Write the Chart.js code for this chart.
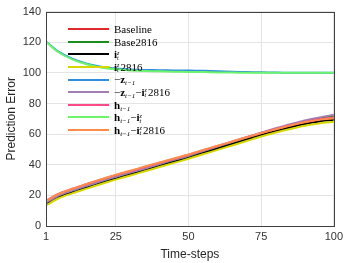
<!DOCTYPE html>
<html>
<head>
<meta charset="utf-8">
<script src="https://cdn.jsdelivr.net/npm/chart.js@4.4.0/dist/chart.umd.min.js"></script>
<style>
  html, body { margin: 0; padding: 0; background: #fff; }
  #wrap { position: relative; width: 347px; height: 263px; }
  #legend { position: absolute; left: 68px; top: 23px; font-family: "Liberation Serif", serif; font-size: 11px; color: #000; }
  .row { height: 12.6px; line-height: 12.6px; white-space: nowrap; display: flex; align-items: center; }
  .swatch { width: 41px; height: 2px; margin-right: 5px; }
  .row b { font-weight: bold; }
  .row sub { font-size: 7px; font-style: italic; vertical-align: -2px; line-height: 0; }
  .st { display: inline-block; vertical-align: middle; font-size: 6px; line-height: 5px; font-style: italic; margin-right: 1px; }
  .st span { display: block; }
</style>
</head>
<body>
<div id="wrap">
  <canvas id="myChart" width="347" height="263"></canvas>
  <div id="legend"></div>
</div>
<script>
const steps = [1, 5, 10, 15, 20, 25, 30, 35, 40, 45, 50, 55, 60, 65, 70, 75, 80, 85, 90, 95, 100];
const xTicks = [1, 25, 50, 75, 100];

const iz = '<b>i</b><span class="st"><span>z</span><span>t</span></span>';
const labels = [
    'Baseline',
    'Base2816',
    iz,
    iz + '2816',
    '&minus;<b>z</b><sub>t&minus;1</sub>',
    '&minus;<b>z</b><sub>t&minus;1</sub>&minus;' + iz + '2816',
    '<b>h</b><sub>t&minus;1</sub>',
    '<b>h</b><sub>t&minus;1</sub>&minus;' + iz,
    '<b>h</b><sub>t&minus;1</sub>&minus;' + iz + '2816'
];
const colors = ['#e02a2a', '#1c8c1c', '#000000', '#d6d600', '#2f8fdc', '#a27fb2', '#ff4a8a', '#6cf46c', '#ff8c4a'];

const baseline   = [15.0, 19.3, 22.8, 25.9, 28.9, 31.8, 34.4, 37.0, 39.8, 42.4, 45.0, 48.0, 51.0, 54.0, 56.9, 59.9, 62.5, 65.0, 67.2, 69.0, 70.2];
const base2816   = [14.8, 19.2, 22.7, 25.8, 28.8, 31.7, 34.3, 37.0, 39.9, 42.6, 45.3, 48.3, 51.4, 54.4, 57.4, 60.4, 63.1, 65.8, 68.2, 70.2, 71.8];
const iz1        = [14.2, 18.6, 22.0, 25.0, 28.0, 30.9, 33.6, 36.3, 39.1, 41.8, 44.5, 47.5, 50.4, 53.4, 56.3, 59.2, 61.8, 64.3, 66.6, 68.3, 69.3];
const iz2816     = [13.3, 17.8, 21.3, 24.4, 27.4, 30.3, 33.0, 35.7, 38.5, 41.2, 43.9, 46.8, 49.7, 52.6, 55.5, 58.4, 61.0, 63.4, 65.5, 67.0, 68.0];
const negZ       = [120.5, 114.2, 109.2, 106.0, 104.0, 102.9, 102.2, 101.9, 101.7, 101.6, 101.5, 101.3, 101.0, 100.7, 100.5, 100.4, 100.2, 100.1, 100.1, 100.0, 100.1];
const negZiz     = [15.3, 19.6, 23.1, 26.2, 29.3, 32.2, 34.9, 37.6, 40.5, 43.2, 45.9, 48.9, 52.0, 55.0, 58.0, 61.0, 63.8, 66.5, 68.9, 70.9, 72.6];
const hPrev      = [16.6, 20.8, 24.3, 27.4, 30.4, 33.2, 35.8, 38.5, 41.2, 43.8, 46.5, 49.4, 52.2, 55.1, 57.9, 60.7, 63.3, 65.8, 68.0, 69.7, 70.8];
const hPrevIz    = [120.3, 113.8, 108.8, 105.6, 103.5, 102.3, 101.6, 101.2, 101.0, 100.8, 100.6, 100.5, 100.3, 100.2, 100.1, 100.1, 100.0, 100.0, 100.0, 100.0, 100.0];
const hPrevIz2816 = [16.0, 20.6, 24.2, 27.4, 30.5, 33.5, 36.1, 38.8, 41.5, 44.1, 46.7, 49.6, 52.4, 55.2, 58.0, 60.7, 63.2, 65.6, 67.7, 69.3, 70.3];

const series = [baseline, base2816, iz1, iz2816, negZ, negZiz, hPrev, hPrevIz, hPrevIz2816];

const datasets = series.map((vals, i) => ({
    label: labels[i].replace(/<[^>]+>/g, '').replace(/&minus;/g, '\u2212'),
    data: vals.map((v, k) => ({ x: steps[k], y: v })),
    borderColor: colors[i],
    backgroundColor: colors[i],
    borderWidth: 2,
    pointRadius: 0,
    tension: 0.3,
    order: series.length - i
}));

const legendDiv = document.getElementById('legend');
labels.forEach((l, i) => {
    const row = document.createElement('div');
    row.className = 'row';
    row.innerHTML = '<span class="swatch" style="background:' + colors[i] + '"></span><span>' + l + '</span>';
    legendDiv.appendChild(row);
});

const boxPlugin = {
    id: 'box',
    afterDraw(chart) {
        const a = chart.chartArea;
        const ctx = chart.ctx;
        ctx.save();
        ctx.strokeStyle = '#404040';
        ctx.lineWidth = 1;
        ctx.strokeRect(Math.round(a.left) + 0.5, Math.round(a.top) + 0.5, Math.round(a.right - a.left), Math.round(a.bottom - a.top));
        ctx.restore();
    }
};

const ctx = document.getElementById('myChart').getContext('2d');
const chart = new Chart(ctx, {
    type: 'line',
    data: { datasets: datasets },
    options: {
        responsive: false,
        animation: false,
        layout: { padding: { top: -2, right: 11, left: 0, bottom: 0 } },
        plugins: { legend: { display: false }, tooltip: { enabled: false } },
        scales: {
            x: {
                type: 'linear',
                min: 1,
                max: 100,
                afterBuildTicks: (scale) => { scale.ticks = xTicks.map(v => ({ value: v })); },
                grid: { color: '#e4e4e4', drawTicks: false },
                border: { display: false },
                ticks: { color: '#333333', font: { family: 'Liberation Sans', size: 11 }, padding: 4, maxRotation: 0 },
                title: { display: true, text: 'Time-steps', color: '#262626', font: { family: 'Liberation Sans', size: 12 }, padding: { top: 2, bottom: 1 } },
                afterFit: (scale) => { scale.height = 37; }
            },
            y: {
                min: 0,
                max: 140,
                ticks: { stepSize: 20, color: '#333333', font: { family: 'Liberation Sans', size: 11 }, padding: 5 },
                grid: { color: '#e4e4e4', drawTicks: false },
                border: { display: false },
                title: { display: true, text: 'Prediction Error', color: '#262626', font: { family: 'Liberation Sans', size: 12 }, padding: { top: 4, bottom: 2 } },
                afterFit: (scale) => { scale.width = 46; }
            }
        }
    },
    plugins: [boxPlugin]
});
</script>
</body>
</html>
